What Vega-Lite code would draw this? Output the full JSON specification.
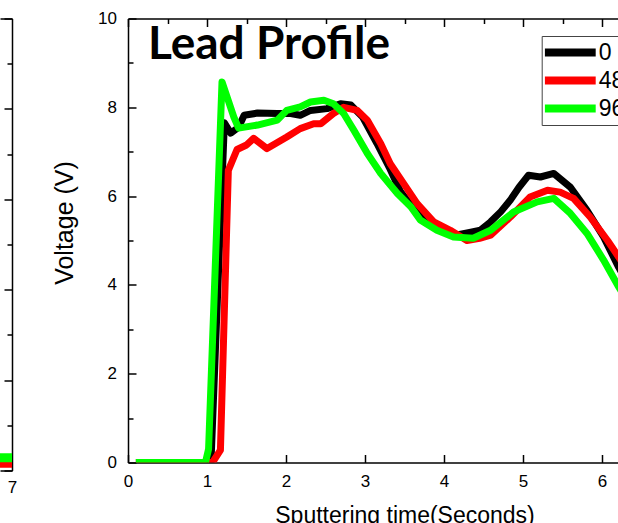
{
  "$schema": "https://vega.github.io/schema/vega-lite/v6.json",
  "padding": {"left": 0, "top": 9.5, "right": 0, "bottom": 0},
  "background": "white",
  "spacing": 35,
  "config": {
    "view": {"stroke": null},
    "font": "Liberation Sans",
    "axis": {"domainColor": "#000", "domainWidth": 1.5, "tickColor": "#000", "tickWidth": 1.5, "labelColor": "#000", "titleColor": "#000", "labelFont": "Liberation Sans", "titleFont": "Liberation Sans", "grid": false, "labelFlush": false, "labelOverlap": false}
  },
  "datasets": {
    "left": [
      {"t": 6.8, "v": 0.15, "s": "48"}, {"t": 7.1, "v": 0.15, "s": "48"},
      {"t": 6.8, "v": 0.28, "s": "96"}, {"t": 7.1, "v": 0.28, "s": "96"}
    ],
    "main": [
      {"t": 0.1, "v": 0, "s": "0"}, {"t": 1.05, "v": 0, "s": "0"}, {"t": 1.22, "v": 7.65, "s": "0"}, {"t": 1.3, "v": 7.42, "s": "0"}, {"t": 1.4, "v": 7.55, "s": "0"}, {"t": 1.47, "v": 7.82, "s": "0"}, {"t": 1.64, "v": 7.87, "s": "0"}, {"t": 1.89, "v": 7.86, "s": "0"}, {"t": 2.06, "v": 7.86, "s": "0"}, {"t": 2.18, "v": 7.82, "s": "0"}, {"t": 2.31, "v": 7.93, "s": "0"}, {"t": 2.52, "v": 7.97, "s": "0"}, {"t": 2.69, "v": 8.08, "s": "0"}, {"t": 2.82, "v": 8.05, "s": "0"}, {"t": 2.97, "v": 7.78, "s": "0"}, {"t": 3.15, "v": 7.19, "s": "0"}, {"t": 3.32, "v": 6.6, "s": "0"}, {"t": 3.45, "v": 6.1, "s": "0"}, {"t": 3.6, "v": 5.75, "s": "0"}, {"t": 3.8, "v": 5.4, "s": "0"}, {"t": 4.0, "v": 5.2, "s": "0"}, {"t": 4.15, "v": 5.12, "s": "0"}, {"t": 4.34, "v": 5.19, "s": "0"}, {"t": 4.46, "v": 5.23, "s": "0"}, {"t": 4.59, "v": 5.42, "s": "0"}, {"t": 4.72, "v": 5.65, "s": "0"}, {"t": 4.84, "v": 5.91, "s": "0"}, {"t": 4.95, "v": 6.2, "s": "0"}, {"t": 5.07, "v": 6.47, "s": "0"}, {"t": 5.22, "v": 6.43, "s": "0"}, {"t": 5.39, "v": 6.51, "s": "0"}, {"t": 5.6, "v": 6.2, "s": "0"}, {"t": 5.81, "v": 5.68, "s": "0"}, {"t": 6.02, "v": 5.08, "s": "0"}, {"t": 6.21, "v": 4.4, "s": "0"}, {"t": 6.4, "v": 3.8, "s": "0"},
      {"t": 0.1, "v": 0, "s": "48"}, {"t": 1.07, "v": 0, "s": "48"}, {"t": 1.17, "v": 0.28, "s": "48"}, {"t": 1.27, "v": 6.58, "s": "48"}, {"t": 1.38, "v": 7.05, "s": "48"}, {"t": 1.5, "v": 7.15, "s": "48"}, {"t": 1.59, "v": 7.3, "s": "48"}, {"t": 1.76, "v": 7.07, "s": "48"}, {"t": 2.01, "v": 7.33, "s": "48"}, {"t": 2.18, "v": 7.52, "s": "48"}, {"t": 2.35, "v": 7.63, "s": "48"}, {"t": 2.44, "v": 7.63, "s": "48"}, {"t": 2.6, "v": 7.86, "s": "48"}, {"t": 2.73, "v": 8.0, "s": "48"}, {"t": 2.9, "v": 7.93, "s": "48"}, {"t": 3.03, "v": 7.71, "s": "48"}, {"t": 3.2, "v": 7.18, "s": "48"}, {"t": 3.32, "v": 6.73, "s": "48"}, {"t": 3.49, "v": 6.28, "s": "48"}, {"t": 3.66, "v": 5.83, "s": "48"}, {"t": 3.87, "v": 5.42, "s": "48"}, {"t": 4.08, "v": 5.23, "s": "48"}, {"t": 4.29, "v": 5.0, "s": "48"}, {"t": 4.45, "v": 5.05, "s": "48"}, {"t": 4.59, "v": 5.12, "s": "48"}, {"t": 4.84, "v": 5.53, "s": "48"}, {"t": 5.09, "v": 5.98, "s": "48"}, {"t": 5.31, "v": 6.13, "s": "48"}, {"t": 5.47, "v": 6.09, "s": "48"}, {"t": 5.64, "v": 5.95, "s": "48"}, {"t": 5.85, "v": 5.53, "s": "48"}, {"t": 6.07, "v": 5.0, "s": "48"}, {"t": 6.21, "v": 4.63, "s": "48"}, {"t": 6.4, "v": 4.1, "s": "48"},
      {"t": 0.1, "v": 0, "s": "96"}, {"t": 0.98, "v": 0, "s": "96"}, {"t": 1.02, "v": 0.3, "s": "96"}, {"t": 1.19, "v": 8.57, "s": "96"}, {"t": 1.34, "v": 7.78, "s": "96"}, {"t": 1.4, "v": 7.53, "s": "96"}, {"t": 1.64, "v": 7.6, "s": "96"}, {"t": 1.89, "v": 7.71, "s": "96"}, {"t": 2.01, "v": 7.93, "s": "96"}, {"t": 2.18, "v": 8.01, "s": "96"}, {"t": 2.31, "v": 8.12, "s": "96"}, {"t": 2.48, "v": 8.16, "s": "96"}, {"t": 2.6, "v": 8.08, "s": "96"}, {"t": 2.73, "v": 7.86, "s": "96"}, {"t": 2.86, "v": 7.48, "s": "96"}, {"t": 3.03, "v": 6.96, "s": "96"}, {"t": 3.2, "v": 6.51, "s": "96"}, {"t": 3.41, "v": 6.06, "s": "96"}, {"t": 3.58, "v": 5.76, "s": "96"}, {"t": 3.7, "v": 5.46, "s": "96"}, {"t": 3.91, "v": 5.23, "s": "96"}, {"t": 4.12, "v": 5.08, "s": "96"}, {"t": 4.37, "v": 5.05, "s": "96"}, {"t": 4.59, "v": 5.23, "s": "96"}, {"t": 4.88, "v": 5.64, "s": "96"}, {"t": 5.18, "v": 5.87, "s": "96"}, {"t": 5.39, "v": 5.95, "s": "96"}, {"t": 5.6, "v": 5.61, "s": "96"}, {"t": 5.81, "v": 5.16, "s": "96"}, {"t": 6.02, "v": 4.56, "s": "96"}, {"t": 6.21, "v": 3.96, "s": "96"}, {"t": 6.4, "v": 3.4, "s": "96"}
    ]
  },
  "hconcat": [
    {
      "width": 12,
      "height": 452,
      "data": {"name": "left"},
      "layer": [
        {
          "transform": [{"filter": "datum.s === '48'"}],
          "mark": {"type": "line", "strokeWidth": 8, "clip": true, "color": "#FF0000"},
          "encoding": {
            "x": {"field": "t", "type": "quantitative", "scale": {"domain": [6.85, 7], "nice": false, "zero": false},
              "axis": {"orient": "bottom", "values": [7], "format": "d", "ticks": false, "tickSize": 0, "labelFontSize": 17, "labelPadding": 9, "title": null}},
            "y": {"field": "v", "type": "quantitative", "scale": {"domain": [0, 10], "nice": false},
              "axis": {"orient": "right", "values": [0, 1, 2, 3, 4, 5, 6, 7, 8, 9, 10], "labels": false, "title": null,
                "tickSize": {"condition": {"test": "datum.value % 2 === 1", "value": -5}, "value": -8}}}
          }
        },
        {
          "transform": [{"filter": "datum.s === '96'"}],
          "mark": {"type": "line", "strokeWidth": 9, "clip": true, "color": "#00FF00"},
          "encoding": {
            "x": {"field": "t", "type": "quantitative", "axis": null},
            "y": {"field": "v", "type": "quantitative",
              "axis": {"orient": "right", "values": [0, 1, 2, 3, 4, 5, 6, 7, 8, 9, 10], "labels": false, "title": null,
                "tickSize": {"condition": {"test": "datum.value % 2 === 1", "value": -5}, "value": -8}}}
          }
        },
        {
          "mark": {"type": "line", "opacity": 0, "clip": true},
          "encoding": {
            "x": {"field": "t", "type": "quantitative", "axis": {"orient": "top", "labels": false, "ticks": false, "title": null}},
            "y": {"field": "v", "type": "quantitative",
              "axis": {"orient": "right", "values": [0, 1, 2, 3, 4, 5, 6, 7, 8, 9, 10], "labels": false, "title": null,
                "tickSize": {"condition": {"test": "datum.value % 2 === 1", "value": -5}, "value": -8}}},
            "detail": {"field": "s"}
          }
        }
      ],
      "resolve": {"axis": {"x": "independent"}}
    },
    {
      "width": 553,
      "height": 444,
      "layer": [
        {
          "data": {"name": "main"},
          "mark": {"type": "line", "strokeWidth": 7, "strokeJoin": "round", "clip": true},
          "encoding": {
            "x": {"field": "t", "type": "quantitative", "scale": {"domain": [0, 7], "nice": false},
              "axis": {"orient": "bottom", "title": "Sputtering time(Seconds)", "values": [0, 0.5, 1, 1.5, 2, 2.5, 3, 3.5, 4, 4.5, 5, 5.5, 6, 6.5, 7], "format": "d",
                "labelExpr": "datum.value % 1 === 0 ? datum.label : ''",
                "tickSize": {"condition": {"test": "datum.value % 1 !== 0", "value": -5}, "value": -8},
                "labelFontSize": 17, "labelPadding": 18.5, "titleFontSize": 23, "titleFontWeight": "normal", "titlePadding": 15}},
            "y": {"field": "v", "type": "quantitative", "scale": {"domain": [0, 10], "nice": false},
              "axis": {"title": "Voltage (V)", "values": [0, 1, 2, 3, 4, 5, 6, 7, 8, 9, 10], "format": "d",
                "labelExpr": "datum.value % 2 === 0 ? datum.label : ''",
                "tickSize": {"condition": {"test": "datum.value % 2 === 1", "value": -5}, "value": -8},
                "labelFontSize": 17, "labelPadding": 19.5, "titleFontSize": 25, "titleFontWeight": "normal", "titlePadding": 20, "titleY": 204}},
            "color": {"field": "s", "type": "nominal", "sort": ["0", "48", "96"],
              "scale": {"domain": ["0", "48", "96"], "range": ["#000000", "#FF0000", "#00FF00"]},
              "legend": {"orient": "none", "legendX": 541.7, "legendY": 17.5, "title": null, "symbolType": "stroke", "symbolSize": 2601, "symbolStrokeWidth": 8,
                "symbolOffset": -4, "clipHeight": 27, "rowPadding": 1,
                "labelFontSize": 23, "labelFont": "Liberation Sans", "labelColor": "#000", "strokeColor": "#444", "fillColor": "white", "padding": 3, "labelOffset": -1}}
          }
        },
        {
          "data": {"values": [{"label": "Lead Profile"}]},
          "mark": {"type": "text", "font": "Lato", "fontWeight": "bold", "fontSize": 46, "align": "left", "baseline": "alphabetic", "color": "#000"},
          "encoding": {
            "text": {"field": "label"},
            "x": {"datum": 0.253, "type": "quantitative",
              "axis": {"orient": "top", "labels": false, "title": null, "values": [0, 0.5, 1, 1.5, 2, 2.5, 3, 3.5, 4, 4.5, 5, 5.5, 6, 6.5, 7],
                "tickSize": {"condition": {"test": "datum.value % 1 !== 0", "value": -5}, "value": -8}}},
            "y": {"datum": 9.08, "type": "quantitative",
              "axis": {"title": "Voltage (V)", "values": [0, 1, 2, 3, 4, 5, 6, 7, 8, 9, 10], "format": "d",
                "labelExpr": "datum.value % 2 === 0 ? datum.label : ''",
                "tickSize": {"condition": {"test": "datum.value % 2 === 1", "value": -5}, "value": -8},
                "labelFontSize": 17, "labelPadding": 19.5, "titleFontSize": 25, "titleFontWeight": "normal", "titlePadding": 20, "titleY": 204}}
          }
        }
      ],
      "resolve": {"axis": {"x": "independent"}}
    }
  ]
}
